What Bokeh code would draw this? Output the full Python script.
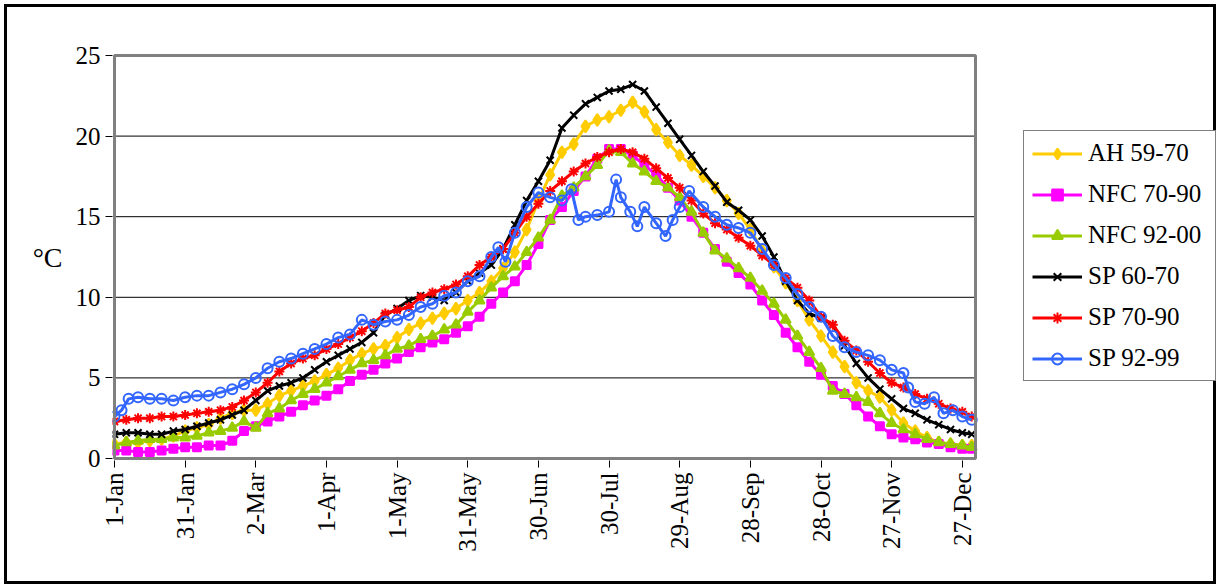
from bokeh.plotting import figure
from bokeh.models import FixedTicker, Legend, LegendItem, Range1d
from bokeh.embed import file_html
from bokeh.resources import INLINE
import math

# ---------------- data (every 5 days) ----------------
days = list(range(0, 361, 5)) + [364]

ah_59_70 = [0.9, 1.0, 1.0, 1.1, 1.2, 1.4, 1.7, 1.9, 2.1, 2.5, 2.8, 3.0, 3.0, 3.4, 3.9, 4.2, 4.5, 4.8, 5.2, 5.6,
            6.1, 6.5, 6.8, 7.0, 7.5, 8.0, 8.4, 8.7, 9.0, 9.3, 9.8, 10.3, 11.0, 11.8, 12.8, 14.2, 16.0, 17.6, 19.0, 19.5,
            20.6, 21.0, 21.2, 21.6, 22.1, 21.5, 20.4, 19.6, 18.8, 18.2, 17.5, 16.8, 16.0, 15.2, 14.2, 12.9, 11.9, 10.9,
            9.8, 8.6, 7.6, 6.6, 5.7, 4.7, 4.2, 3.8, 3.0, 2.2, 1.7, 1.3, 1.0, 0.9, 0.8, 0.8]

nfc_70_90 = [0.5, 0.5, 0.4, 0.4, 0.5, 0.6, 0.7, 0.7, 0.8, 0.8, 1.1, 1.7, 2.0, 2.3, 2.6, 2.9, 3.3, 3.6, 3.9, 4.3,
             4.8, 5.2, 5.5, 5.9, 6.2, 6.6, 6.9, 7.2, 7.4, 7.8, 8.2, 8.8, 9.6, 10.3, 11.0, 12.0, 13.3, 14.8, 15.6, 16.6,
             17.5, 18.6, 19.2, 19.2, 18.8, 18.2, 17.6, 16.8, 16.0, 15.0, 14.0, 13.0, 12.2, 11.5, 10.8, 9.8, 8.9, 7.8,
             6.9, 6.0, 5.2, 4.5, 4.0, 3.3, 2.6, 2.0, 1.5, 1.3, 1.2, 1.0, 0.9, 0.7, 0.6, 0.6]

nfc_92_00 = [0.8, 1.0, 1.1, 1.2, 1.2, 1.3, 1.3, 1.4, 1.6, 1.7, 1.9, 2.3, 1.9, 2.8, 3.1, 3.6, 4.0, 4.3, 4.7, 5.1,
             5.5, 5.9, 6.1, 6.4, 6.8, 7.0, 7.4, 7.6, 8.0, 8.3, 9.1, 9.8, 10.6, 11.3, 11.9, 12.8, 13.7, 14.8, 16.3, 16.8,
             17.5, 18.2, 19.1, 19.0, 18.3, 17.8, 17.2, 16.8, 16.2, 15.3, 14.0, 12.9, 12.4, 11.8, 11.2, 10.4, 9.6, 8.6,
             7.6, 6.6, 5.6, 4.2, 4.0, 3.8, 3.5, 2.8, 2.2, 1.8, 1.5, 1.2, 1.0, 0.9, 0.8, 0.7]

sp_60_70 = [1.5, 1.6, 1.6, 1.5, 1.5, 1.7, 1.8, 2.0, 2.2, 2.4, 2.7, 3.0, 3.6, 4.2, 4.5, 4.7, 5.0, 5.5, 6.0, 6.4,
            6.8, 7.2, 7.8, 8.9, 9.3, 9.8, 10.1, 10.0, 9.8, 10.3, 11.0, 11.5, 12.0, 13.0, 14.5, 16.0, 17.2, 18.5, 20.5, 21.3,
            22.0, 22.4, 22.8, 22.9, 23.2, 22.8, 21.8, 20.8, 19.8, 18.8, 17.8, 16.9, 15.9, 15.4, 14.8, 13.8, 12.5, 11.0,
            9.8, 9.0, 8.7, 8.3, 7.0, 5.9, 5.0, 4.3, 3.7, 3.1, 2.8, 2.4, 2.1, 1.8, 1.6, 1.5]

sp_70_90 = [2.3, 2.4, 2.5, 2.5, 2.6, 2.6, 2.7, 2.8, 2.9, 3.0, 3.2, 3.6, 4.1, 4.7, 5.4, 5.9, 6.2, 6.4, 6.8, 7.1,
            7.5, 7.9, 8.4, 9.0, 9.2, 9.4, 10.0, 10.3, 10.5, 10.8, 11.3, 12.0, 12.5, 13.0, 14.0, 15.0, 15.8, 16.6, 17.2, 17.8,
            18.3, 18.7, 19.0, 19.2, 19.0, 18.6, 18.0, 17.4, 16.8, 16.0, 15.2, 14.6, 14.2, 13.7, 13.2, 12.6, 12.0, 11.2,
            10.6, 9.8, 8.8, 8.3, 7.3, 6.7, 6.0, 5.3, 4.7, 4.4, 4.0, 3.7, 3.4, 3.1, 2.9, 2.6]

sp_92_99_days = [0, 3, 6, 10, 15, 20, 25, 30, 35, 40, 45, 50, 55, 60, 65, 70, 75, 80, 85, 90, 95, 100, 105, 110,
                 115, 120, 125, 130, 135, 140, 145, 150, 155, 160, 163, 166, 170, 175, 180, 185, 190, 194, 197,
                 200, 205, 210, 213, 215, 219, 222, 225, 230, 234, 237, 240, 244, 250, 255, 260, 265, 270, 275,
                 280, 285, 290, 295, 300, 305, 310, 315, 320, 325, 330, 335, 337, 340, 344, 348, 352, 356, 360, 364]
sp_92_99 = [2.6, 3.0, 3.7, 3.8, 3.7, 3.7, 3.6, 3.8, 3.9, 3.9, 4.1, 4.3, 4.6, 5.0, 5.6, 6.0, 6.2, 6.5, 6.8, 7.1,
            7.5, 7.7, 8.6, 8.3, 8.5, 8.6, 8.9, 9.4, 9.6, 10.1, 10.3, 11.0, 11.3, 12.5, 13.1, 12.2, 14.0, 15.6, 16.5,
            16.2, 16.0, 16.7, 14.8, 15.0, 15.1, 15.3, 17.3, 16.2, 15.3, 14.4, 15.6, 14.6, 13.8, 14.8, 15.6, 16.6,
            15.6, 15.0, 14.5, 14.3, 14.0, 13.0, 12.0, 11.2, 10.2, 9.4, 8.8, 7.6, 6.9, 6.6, 6.4, 6.1, 5.5, 5.3, 4.4,
            3.5, 3.4, 3.8, 2.8, 3.0, 2.6, 2.4]

tick_days = [0, 30, 60, 90, 120, 150, 180, 210, 240, 270, 300, 330, 360]
tick_labels = ["1-Jan", "31-Jan", "2-Mar", "1-Apr", "1-May", "31-May", "30-Jun", "30-Jul",
               "29-Aug", "28-Sep", "28-Oct", "27-Nov", "27-Dec"]
y_ticks = [0, 5, 10, 15, 20, 25]
grid_values = [5, 10, 15, 20]
y_title = "°C"
X_MAX_DAY = 365.6     # right edge of the plot box (in days)
Y_MAX = 25

FONT = "Liberation Serif"

# ---------------- layout (pixels) ----------------
W, H = 1212, 580
BOX_LEFT, BOX_RIGHT, BOX_TOP, BOX_BOTTOM = 107, 968, 48, 451   # grey plot box inside canvas
PAD = 2                                                        # keep box border un-clipped
px_day = (BOX_RIGHT - BOX_LEFT) / X_MAX_DAY
px_val = (BOX_BOTTOM - BOX_TOP) / Y_MAX
fl, fr, ft, fb = BOX_LEFT - PAD, W, BOX_TOP - PAD, BOX_BOTTOM + PAD
x0 = -PAD / px_day
x1 = x0 + (fr - fl) / px_day
y0 = -PAD / px_val
y1 = Y_MAX + PAD / px_val

p = figure(width=W, height=H, output_backend="svg", toolbar_location=None,
           x_range=Range1d(x0, x1), y_range=Range1d(y0, y1),
           min_border_left=fl, min_border_right=0, min_border_top=ft, min_border_bottom=H - fb)
p.styles = {"border": "3px solid black", "margin-left": "4px", "margin-top": "4px"}
p.background_fill_color = "white"
p.border_fill_color = "white"
p.outline_line_color = None
p.xgrid.visible = False
p.ygrid.visible = False

# horizontal grid lines, limited to the plot box
for g in grid_values:
    p.segment(x0=[0], y0=[g], x1=[X_MAX_DAY], y1=[g], line_color="black", line_width=1)

p.xaxis.ticker = FixedTicker(ticks=tick_days)
p.xaxis.major_label_overrides = {d: lab for d, lab in zip(tick_days, tick_labels)}
p.xaxis.major_label_orientation = math.pi / 2
p.yaxis.ticker = FixedTicker(ticks=y_ticks)
for ax in (p.xaxis[0], p.yaxis[0]):
    ax.axis_line_color = None
    ax.major_tick_line_color = "black"
    ax.major_tick_out = 7
    ax.major_tick_in = 0
    ax.minor_tick_line_color = None
    ax.major_label_text_font = FONT
    ax.major_label_text_font_size = "25px"
    ax.major_label_text_color = "black"
    ax.major_label_standoff = 5

yax = p.yaxis[0]
yax.axis_label = y_title
yax.axis_label_text_font = FONT
yax.axis_label_text_font_size = "28px"
yax.axis_label_text_font_style = "normal"
yax.axis_label_text_color = "black"
yax.axis_label_standoff = 10
try:
    yax.axis_label_orientation = "horizontal"
except Exception:
    pass

series = [
    ("AH 59-70", days, ah_59_70, "#FFCC00", "diamond", 12, True),
    ("NFC 70-90", days, nfc_70_90, "#FF00FF", "square", 8, True),
    ("NFC 92-00", days, nfc_92_00, "#99CC00", "triangle", 10, True),
    ("SP 60-70", days, sp_60_70, "black", "x", 10, False),
    ("SP 70-90", days, sp_70_90, "#FF0000", "asterisk", 10, False),
    ("SP 92-99", sp_92_99_days, sp_92_99, "#3366FF", "circle", 10, False),
]

items = []
for name, xs, ys, col, mk, sz, filled in series:
    lr = p.line(xs, ys, line_color=col, line_width=3)
    sr = p.scatter(xs, ys, marker=mk, size=sz, line_color=col, line_width=2,
                   fill_color=col if filled else None, fill_alpha=1.0 if filled else 0.0)
    items.append(LegendItem(label=name, renderers=[lr, sr]))

# grey plot-area border
p.quad(left=[0], right=[X_MAX_DAY], bottom=[0], top=[Y_MAX], fill_color=None,
       line_color="#808080", line_width=3)

# legend, placed to the right of the plot box (screen offsets from frame bottom-left)
LEG_LEFT, LEG_BOTTOM = 1016, 374
legend = Legend(items=items, location=(LEG_LEFT - fl, fb - LEG_BOTTOM))
legend.border_line_color = "black"
legend.border_line_width = 1
legend.background_fill_color = "white"
legend.background_fill_alpha = 1.0
legend.label_text_font = FONT
legend.label_text_font_size = "25px"
legend.label_text_color = "black"
legend.glyph_width = 50
legend.glyph_height = 27
legend.label_height = 27
legend.label_width = 119
legend.label_standoff = 6
legend.spacing = 13
legend.padding = 8
legend.margin = 0
p.add_layout(legend)

open("out.html", "w").write(file_html(p, INLINE))
